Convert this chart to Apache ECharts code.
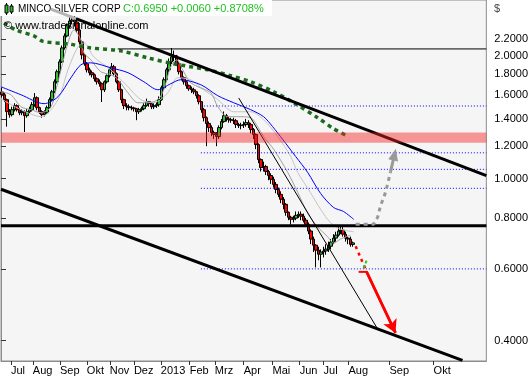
<!DOCTYPE html>
<html>
<head>
<meta charset="utf-8">
<script src="https://cdn.jsdelivr.net/npm/echarts@6.0.0/dist/echarts.min.js"></script>
<style>
html,body{margin:0;padding:0;background:#fff;}
#chart{width:531px;height:380px;}
</style>
</head>
<body>
<div id="chart"></div>
<script>
// x unit = one 2-trading-day slot (Jun 2012 .. Okt 2013)
const monthLabels = ['Jul','Aug','Sep','Okt','Nov','Dez','2013','Feb','Mrz','Apr','Mai','Jun','Jul','Aug','Sep','Okt'];
const monthTicks = [4.0,12.8,23.7,34.5,43.7,53.4,64.2,75.8,85.9,97.5,109.1,120.0,129.6,139.6,156.1,173.8];
const priceTicks = [0.4,0.6,0.8,1.0,1.2,1.4,1.6,1.8,2.0,2.2];

// [open, close, low, high]
const ohlc = [
[1.63,1.605,1.58,1.67],[1.605,1.561,1.54,1.62],[1.561,1.459,1.34,1.57],[1.459,1.434,1.41,1.48],
[1.434,1.475,1.42,1.50],[1.475,1.509,1.46,1.53],[1.509,1.475,1.46,1.52],[1.475,1.450,1.43,1.49],
[1.450,1.458,1.43,1.48],[1.458,1.426,1.30,1.47],[1.426,1.458,1.41,1.48],[1.458,1.475,1.44,1.50],
[1.475,1.517,1.46,1.54],[1.517,1.578,1.50,1.62],[1.578,1.492,1.47,1.59],[1.492,1.458,1.44,1.50],
[1.458,1.434,1.41,1.47],[1.434,1.450,1.42,1.47],[1.450,1.492,1.44,1.51],[1.492,1.561,1.48,1.58],
[1.561,1.632,1.55,1.65],[1.632,1.727,1.62,1.75],[1.727,1.828,1.71,1.85],[1.828,1.933,1.80,1.96],
[1.933,2.091,1.92,2.12],[2.091,2.237,2.07,2.27],[2.237,2.367,2.22,2.40],[2.367,2.434,2.34,2.50],
[2.434,2.448,2.39,2.53],[2.448,2.421,2.36,2.52],[2.421,2.314,2.28,2.45],[2.314,2.163,2.13,2.33],
[2.163,2.010,1.96,2.18],[2.010,1.912,1.89,2.02],[1.912,1.848,1.82,1.93],[1.848,1.818,1.79,1.87],
[1.818,1.797,1.77,1.84],[1.797,1.757,1.73,1.81],[1.757,1.727,1.70,1.77],[1.727,1.708,1.68,1.75],
[1.708,1.651,1.54,1.72],[1.651,1.727,1.63,1.74],[1.727,1.787,1.71,1.80],[1.787,1.848,1.77,1.87],
[1.848,1.880,1.83,1.92],[1.880,1.807,1.79,1.90],[1.807,1.727,1.71,1.82],[1.727,1.651,1.63,1.74],
[1.651,1.561,1.53,1.66],[1.561,1.509,1.48,1.57],[1.509,1.500,1.47,1.53],[1.500,1.492,1.47,1.52],
[1.492,1.490,1.47,1.51],[1.490,1.483,1.46,1.50],[1.483,1.458,1.39,1.49],[1.458,1.475,1.44,1.49],
[1.475,1.483,1.46,1.50],[1.483,1.509,1.47,1.53],[1.509,1.543,1.50,1.57],[1.543,1.526,1.50,1.55],
[1.526,1.500,1.48,1.53],[1.500,1.509,1.48,1.53],[1.509,1.517,1.49,1.54],[1.517,1.561,1.50,1.59],
[1.561,1.670,1.55,1.69],[1.670,1.747,1.65,1.77],[1.747,1.848,1.73,1.87],[1.848,1.933,1.82,1.97],
[1.933,1.988,1.91,2.09],[1.988,1.999,1.94,2.06],[1.999,1.912,1.89,2.01],[1.912,1.828,1.80,1.93],
[1.828,1.767,1.74,1.84],[1.767,1.727,1.70,1.78],[1.727,1.689,1.66,1.74],[1.689,1.660,1.64,1.70],
[1.660,1.651,1.62,1.68],[1.651,1.632,1.61,1.67],[1.632,1.596,1.57,1.64],[1.596,1.543,1.52,1.61],
[1.543,1.475,1.45,1.55],[1.475,1.410,1.38,1.49],[1.410,1.364,1.20,1.42],[1.364,1.333,1.30,1.38],
[1.333,1.296,1.27,1.35],[1.296,1.282,1.25,1.31],[1.282,1.267,1.20,1.30],[1.267,1.333,1.25,1.35],
[1.333,1.379,1.32,1.40],[1.379,1.426,1.37,1.46],[1.426,1.402,1.38,1.44],[1.402,1.394,1.37,1.42],
[1.394,1.390,1.37,1.41],[1.390,1.386,1.36,1.41],[1.386,1.356,1.33,1.40],[1.356,1.348,1.33,1.37],
[1.348,1.352,1.32,1.37],[1.352,1.356,1.33,1.38],[1.356,1.371,1.34,1.40],[1.371,1.356,1.33,1.39],
[1.356,1.318,1.29,1.37],[1.318,1.282,1.25,1.33],[1.282,1.211,1.18,1.29],[1.211,1.113,1.09,1.22],
[1.113,1.064,1.04,1.12],[1.064,1.070,1.04,1.10],[1.070,1.040,1.02,1.08],[1.040,1.017,0.99,1.05],
[1.017,0.995,0.97,1.03],[0.995,0.967,0.95,1.01],[0.967,0.940,0.92,0.98],[0.940,0.914,0.90,0.95],
[0.914,0.889,0.87,0.93],[0.889,0.864,0.84,0.90],[0.864,0.826,0.81,0.87],[0.826,0.803,0.79,0.83],
[0.803,0.794,0.77,0.81],[0.794,0.799,0.78,0.81],[0.799,0.812,0.79,0.83],[0.812,0.817,0.80,0.83],
[0.817,0.808,0.79,0.83],[0.808,0.790,0.78,0.82],[0.790,0.772,0.76,0.80],[0.772,0.743,0.73,0.78],
[0.743,0.710,0.69,0.75],[0.710,0.686,0.66,0.72],[0.686,0.667,0.605,0.69],[0.667,0.652,0.63,0.68],
[0.652,0.660,0.605,0.67],[0.660,0.664,0.64,0.68],[0.664,0.671,0.65,0.69],[0.671,0.682,0.66,0.70],
[0.682,0.698,0.67,0.71],[0.698,0.714,0.69,0.73],[0.714,0.726,0.70,0.74],[0.726,0.743,0.72,0.76],
[0.743,0.747,0.73,0.765],[0.747,0.730,0.72,0.76],[0.730,0.714,0.70,0.74],[0.714,0.710,0.69,0.72],
[0.710,0.689,0.68,0.72],[0.689,0.695,0.68,0.70]
];

// moving averages: [slot, price]
const maGrayDark = [[0,1.632],[4,1.605],[8,1.500],[12,1.475],[16.1,1.450],[20.1,1.500],[22.1,1.651],[24.1,1.848],[26.9,2.151],[29.3,2.314],[32.1,2.188],[33.3,2.033],[36.1,1.955],[40.1,1.828],[44.1,1.797],[47,1.747],[51,1.623],[55,1.534],[59,1.534],[63,1.561],[65.4,1.651],[68.2,1.880],[70.6,1.955],[73,1.848],[75.8,1.727],[79.1,1.679],[84.3,1.623],[87.1,1.500],[91.1,1.418],[95.1,1.418],[100.3,1.410],[103.1,1.341],[105.5,1.267],[109.6,1.178],[115.2,1.035],[119.2,0.925],[123.2,0.822],[127.2,0.761],[131.2,0.720],[133.6,0.694],[136.4,0.710],[140.4,0.726]];
const maGrayLight = [[0,1.569],[8,1.475],[16.1,1.418],[22.9,1.561],[26.9,1.848],[30.9,2.103],[33.3,2.151],[37.3,1.988],[44.1,1.848],[51,1.679],[56.2,1.561],[61.4,1.534],[67,1.623],[71,1.767],[76.2,1.747],[80.3,1.670],[87.1,1.561],[93.5,1.458],[100.3,1.458],[105.5,1.394],[111.2,1.267],[116.4,1.132],[119.2,1.035],[124.4,0.922],[128.4,0.840],[132.4,0.779],[136.4,0.751],[141.7,0.740]];
const maBlue = [[0,1.679],[8,1.605],[17.3,1.526],[22.9,1.587],[28.1,1.767],[32.1,1.901],[36.1,1.922],[44.1,1.869],[51,1.818],[57.4,1.727],[63,1.651],[68.2,1.708],[72.2,1.747],[80.3,1.698],[87.1,1.596],[93.5,1.534],[100.3,1.475],[105.5,1.418],[109.1,1.341],[113.2,1.246],[118.4,1.132],[123.2,1.035],[128.4,0.919],[133.6,0.849],[137.6,0.830],[141.7,0.794]];
const maGreen = [[1.2,2.408],[6,2.314],[13.2,2.238],[16.9,2.170],[26.9,2.139],[36.1,2.091],[48.2,2.056],[59,1.976],[69.4,1.912],[83.1,1.848],[92.3,1.787],[100.3,1.727],[109.6,1.632],[117.6,1.534],[127.2,1.410],[133.6,1.325],[139.6,1.267]];

// drawn analysis lines: [slot, price]
const upperChannelExt = [[20,2.603],[30.1,2.467]];
const upperChannel = [[30.1,2.467],[195,1.016]];
const lowerChannel = [[0,0.941],[185.4,0.358]];
const thinTrend = [[95.5,1.576],[151.3,0.4275]];
const resistance = [[46.9,2.079],[195,2.079]];
const support = [[0,0.766],[195,0.766]];
const fibLevels = [1.506,1.156,1.053,0.946,0.600];
const fibStart = 80.3;
const bandLow = 1.224, bandHigh = 1.296;
const bullPath = [[142.5,0.772],[149.7,0.772],[151.3,0.803],[152.5,0.858],[154.1,0.909],[155.3,0.967],[156.5,1.040]];
const bullHead = [[156.5,1.040],[158.1,1.145]];
const bearPath = [[142.5,0.682],[146.9,0.590]];
const bearFoot = [[143.7,0.590],[147.3,0.590]];
const bearHead = [[146.9,0.590],[158.5,0.418]];
const greenMark = [[145.7,0.603],[146.9,0.630]];

function lineSeries(data, style, z, extra) {
  return Object.assign({
    type: 'line', data: data, showSymbol: false, symbol: 'none', silent: true,
    lineStyle: style, z: z, animation: false
  }, extra || {});
}
function labelFor(v) {
  const i = monthTicks.findIndex(t => Math.abs(t - v) < 1e-6);
  return i >= 0 ? monthLabels[i] : '';
}

const series = [];
series.push({
  type: 'candlestick',
  data: ohlc.map((r, k) => [k + 0.5, r[0], r[1], r[2], r[3]]),
  encode: { x: 0, y: [1, 2, 3, 4] },
  barWidth: 3,
  z: 2,
  silent: true,
  itemStyle: { color: '#2fc02f', color0: '#ff0000', borderColor: '#000', borderColor0: '#000', borderWidth: 1 }
});
series.push(lineSeries(maGrayLight, { color: '#c4c4c4', width: 1 }, 3, { smooth: 0.3 }));
series.push(lineSeries(maGrayDark, { color: '#a0a0a0', width: 1 }, 3, { smooth: 0.3 }));
series.push(lineSeries(maBlue, { color: '#0000ff', width: 1 }, 3, { smooth: 0.3 }));
series.push(lineSeries(maGreen, { color: '#1b6b1b', width: 3.5, type: [4, 4] }, 4, { smooth: 0.3 }));
fibLevels.forEach(v => series.push(lineSeries([[fibStart, v], [195, v]], { color: '#0000ff', width: 1, type: [1, 2] }, 3)));
series.push(lineSeries(upperChannelExt, { color: '#b4b4b4', width: 3 }, 101));
series.push(lineSeries(upperChannel, { color: '#000', width: 3 }, 5));
series.push(lineSeries(lowerChannel, { color: '#000', width: 3 }, 5));
series.push(lineSeries(thinTrend, { color: '#000', width: 1 }, 5));
series.push(lineSeries(resistance, { color: '#000', width: 1 }, 5));
series.push(lineSeries(support, { color: '#000', width: 3 }, 5, {
  markArea: {
    silent: true, z: 10,
    itemStyle: { color: 'rgba(249,34,34,0.45)' },
    data: [[{ yAxis: bandLow }, { yAxis: bandHigh }]]
  }
}));
series.push(lineSeries(bullPath, { color: '#999999', width: 3, type: [4, 4] }, 6, {
  markLine: {
    silent: true, symbol: ['none', 'triangle'], symbolSize: [10, 12], z: 6,
    label: { show: false },
    lineStyle: { color: '#999999', width: 3, type: 'solid' },
    data: [[{ coord: bullHead[0] }, { coord: bullHead[1] }]]
  }
}));
series.push(lineSeries(bearPath, { color: '#ff0000', width: 2.5, type: [3, 4] }, 6));
series.push(lineSeries(bearFoot, { color: '#ff0000', width: 2 }, 6));
series.push(lineSeries(greenMark, { color: '#2fc02f', width: 2, type: [3, 2] }, 6));
series.push(lineSeries(bearHead, { color: '#ff0000', width: 2.5 }, 6, {
  markLine: {
    silent: true, symbol: ['none', 'arrow'], symbolSize: [11, 13], z: 6,
    label: { show: false },
    lineStyle: { color: '#ff0000', width: 2.5, type: 'solid' },
    data: [[{ coord: bearHead[0] }, { coord: bearHead[1] }]]
  }
}));

const chart = echarts.init(document.getElementById('chart'), null, { renderer: 'canvas' });
chart.setOption({
  animation: false,
  backgroundColor: '#ffffff',
  grid: { left: 1, right: 44, top: 0, bottom: 19, show: true, backgroundColor: '#f5f5f5', borderColor: '#8c8c8c', borderWidth: 1 },
  xAxis: {
    type: 'value', min: 0, max: 195,
    axisLine: { show: true, onZero: false, lineStyle: { color: '#8c8c8c' } },
    axisTick: { show: true, customValues: monthTicks, length: 4, lineStyle: { color: '#333' } },
    axisLabel: { customValues: monthTicks, formatter: labelFor, align: 'left', margin: 4, color: '#000', fontSize: 11, fontFamily: 'Liberation Sans', showMinLabel: true, showMaxLabel: true, hideOverlap: false },
    splitLine: { show: false }
  },
  yAxis: {
    type: 'log', logBase: 10, min: 0.3566, max: 2.741, position: 'right',
    axisLine: { show: true, lineStyle: { color: '#8c8c8c' } },
    axisTick: { show: true, customValues: priceTicks, length: 5, lineStyle: { color: '#333' } },
    axisLabel: { customValues: priceTicks, formatter: v => Number(v).toFixed(4), margin: 8, color: '#000', fontSize: 11, fontFamily: 'Liberation Sans', showMinLabel: true, showMaxLabel: true, hideOverlap: false },
    splitLine: { show: false }
  },
  series: series,
  graphic: [
    { type: 'rect', shape: { x: 0, y: 0, width: 272, height: 16 }, style: { fill: '#ffffff' }, z: 100 },
    { type: 'line', shape: { x1: 6.5, y1: 3, x2: 6.5, y2: 15 }, style: { stroke: '#000', lineWidth: 1 }, z: 101 },
    { type: 'rect', shape: { x: 5, y: 5, width: 3, height: 8 }, style: { fill: '#2fc02f', stroke: '#000', lineWidth: 1 }, z: 102 },
    { type: 'line', shape: { x1: 11.5, y1: 4, x2: 11.5, y2: 14 }, style: { stroke: '#000', lineWidth: 1 }, z: 101 },
    { type: 'rect', shape: { x: 10, y: 6, width: 3, height: 6 }, style: { fill: '#2fc02f', stroke: '#000', lineWidth: 1 }, z: 102 },
    { type: 'text', x: 18, y: 9, style: { text: 'MINCO SILVER CORP', fill: '#000', font: '10px "Liberation Sans"', verticalAlign: 'middle' }, z: 101 },
    { type: 'text', x: 123, y: 9, style: { text: 'C:0.6950 +0.0060 +0.8708%', fill: '#1fc01f', font: '11px "Liberation Sans"', verticalAlign: 'middle' }, z: 101 },
    { type: 'text', x: 4, y: 26, style: { text: '© www.tradesignalonline.com', fill: '#000', font: '11px "Liberation Sans"', verticalAlign: 'middle' }, z: 101 },
    { type: 'text', x: 494, y: 9, style: { text: '$', fill: '#444', font: '11px "Liberation Sans"', verticalAlign: 'middle' }, z: 101 }
  ]
});
</script>
</body>
</html>
